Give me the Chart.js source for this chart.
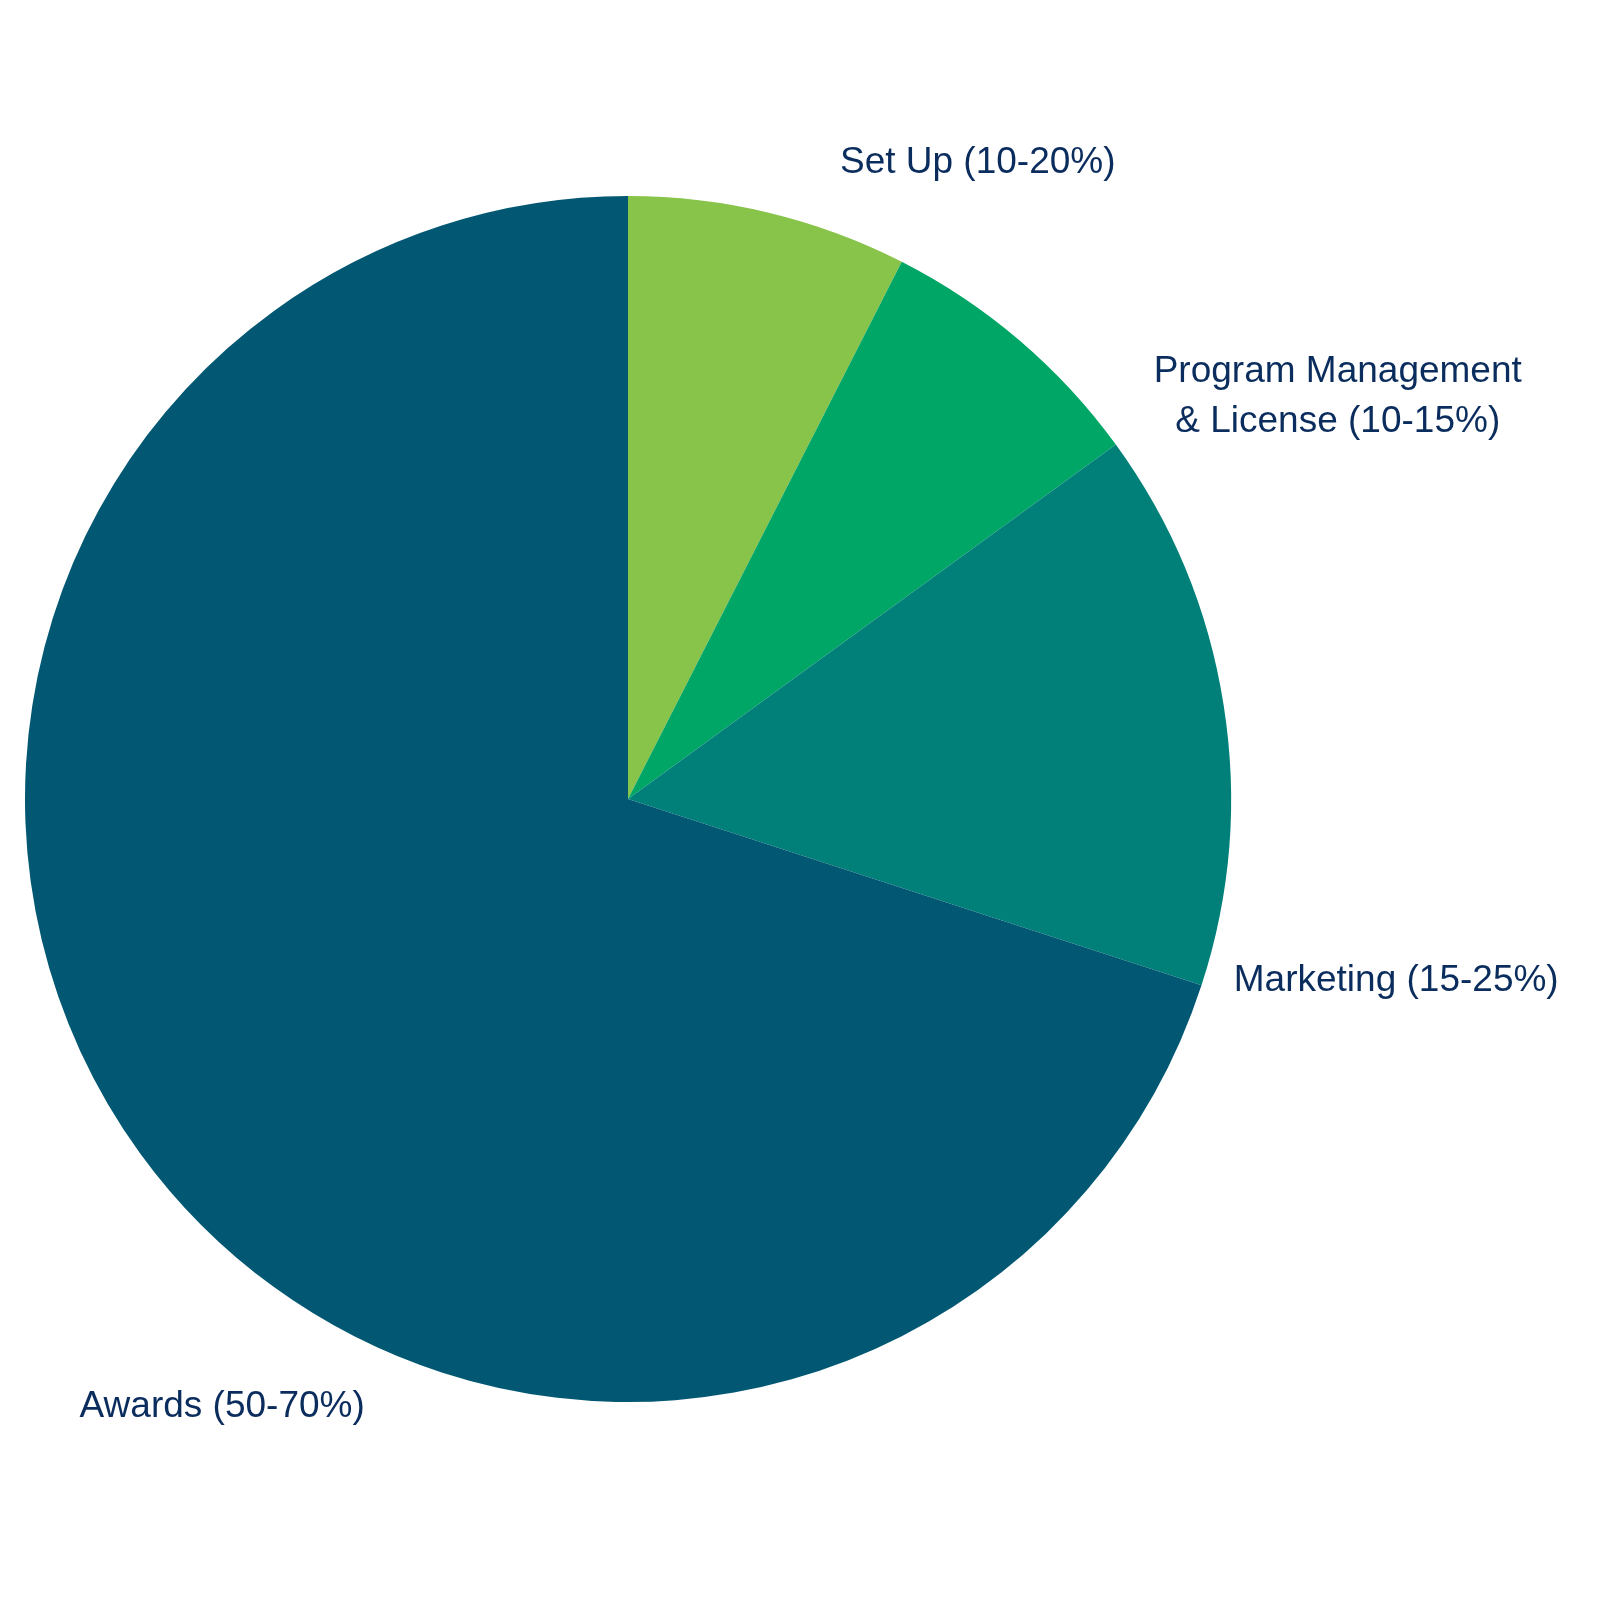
<!DOCTYPE html>
<html>
<head>
<meta charset="utf-8">
<script src="https://cdn.jsdelivr.net/npm/chart.js@4/dist/chart.umd.min.js"></script>
<style>
html,body{margin:0;padding:0;background:#fff;}
#wrap{width:1600px;height:1600px;position:relative;}
</style>
</head>
<body>
<div id="wrap"><canvas id="c" width="1600" height="1600"></canvas></div>
<script>
const categories = ["Set Up (10-20%)", "Program Management\n& License (10-15%)", "Marketing (15-25%)", "Awards (50-70%)"];
const values = [7.5, 7.5, 15, 70];
const colors = ["#88C34A", "#00A665", "#01807A", "#025873"];

const labelPlugin = {
  id: 'outerLabels',
  afterDatasetsDraw(chart, args, opts) {
    const ctx = chart.ctx;
    const meta = chart.getDatasetMeta(0);
    ctx.save();
    ctx.font = opts.font;
    ctx.fillStyle = opts.color;
    ctx.textAlign = 'center';
    ctx.textBaseline = 'middle';
    meta.data.forEach((arc, i) => {
      const off = opts.offsets[i];
      const r = arc.outerRadius;
      const cx = arc.x + off[0] * r;
      const cy = arc.y + off[1] * r;
      const lines = chart.data.labels[i].split('\n');
      const lh = opts.lineHeight;
      const startY = cy - (lines.length - 1) * lh / 2;
      lines.forEach((ln, j) => ctx.fillText(ln, cx, startY + j * lh));
    });
    ctx.restore();
  }
};

new Chart(document.getElementById('c'), {
  type: 'pie',
  data: {
    labels: categories,
    datasets: [{ data: values, backgroundColor: colors, borderWidth: 0 }]
  },
  options: {
    responsive: false,
    animation: false,
    layout: { padding: { left: 25, right: 369, top: 196, bottom: 198 } },
    plugins: {
      legend: { display: false },
      tooltip: { enabled: false },
      outerLabels: {
        font: '37px "Liberation Sans", Arial, sans-serif',
        color: '#0B2D5E',
        lineHeight: 50,
        offsets: [[0.580, -1.055], [1.177, -0.667], [1.274, 0.302], [-0.673, 1.008]]
      }
    }
  },
  plugins: [labelPlugin]
});
</script>
</body>
</html>
